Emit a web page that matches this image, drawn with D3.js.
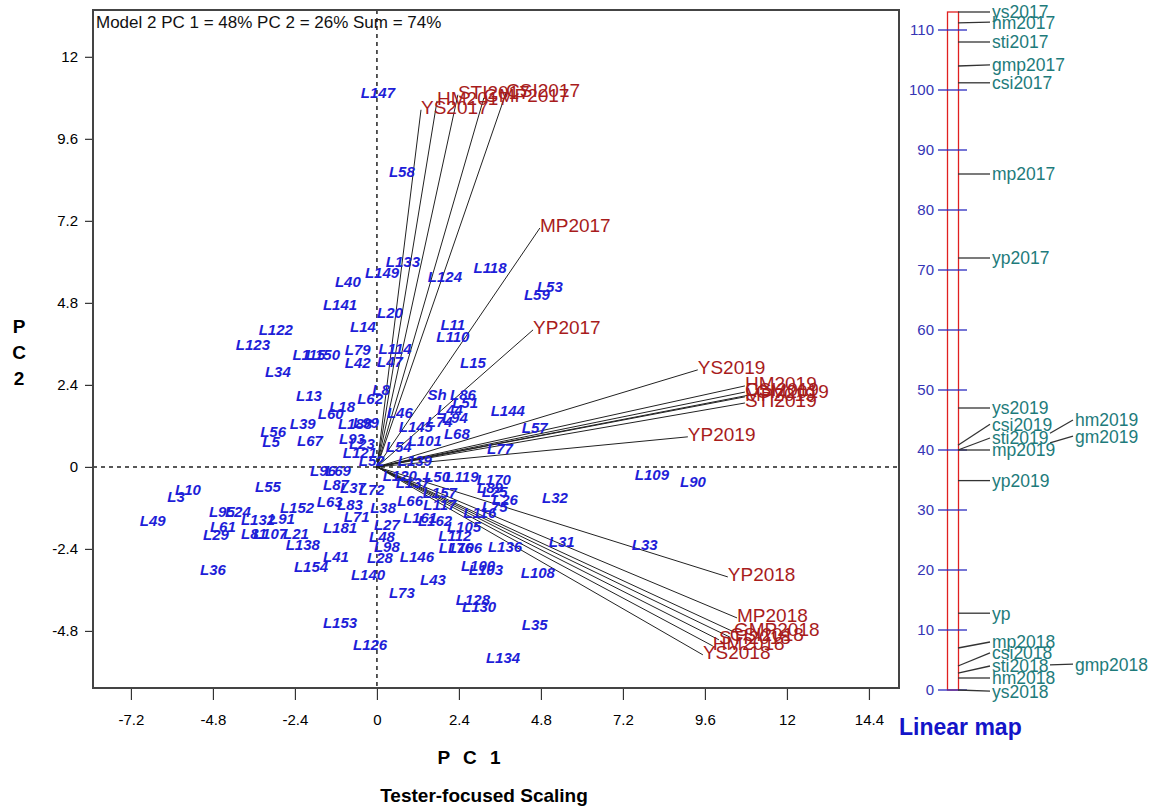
<!DOCTYPE html>
<html>
<head>
<meta charset="utf-8">
<script src="https://cdn.jsdelivr.net/npm/d3@7"></script>
<style>
  body { margin: 0; background: #fff; }
  text { font-family: Arial, "Liberation Sans", sans-serif; }
</style>
</head>
<body>
<svg id="chart" width="1160" height="806"></svg>
<script>
// genotype scores (PC1, PC2)
var genoNames = ['L147','L58','L133','L149','L40','L124','L118','L53','L59','L141','L20','L14','L122','L123','L11','L110','L115','L150','L79','L114','L42','L47','L15','L34','L13','L8','L62','L18','L60','Sh','L86','L51','L144','L46','L44','L94','L74','L145','L57','L68','L101','L54','L77','L56','L5','L39','L67','L188','L99','L93','L23','L121','L52','L139','L96','L69','L50','L119','L109','L90','L170','L89','L25','L26','L75','L116','L32','L31','L33','L136','L108','L100','L103','L106','L176','L112','L105','L161','L162','L157','L117','L146','L43','L73','L128','L130','L35','L134','L140','L28','L98','L48','L27','L38','L10','L3','L49','L55','L95','L24','L61','L29','L132','L91','L152','L81','L107','L21','L138','L154','L41','L36','L153','L126','L181','L87','L37','L72','L63','L83','L71','L120','L137','L66'];
var genoPC1 = [0.03,0.73,0.76,0.15,-0.85,1.99,3.31,5.06,4.68,-1.08,0.38,-0.41,-2.96,-3.63,2.22,2.22,-1.99,-1.58,-0.56,0.53,-0.56,0.38,2.81,-2.90,-1.99,0.12,-0.20,-1.02,-1.35,1.76,2.52,2.58,3.83,0.67,2.14,2.28,1.84,1.14,4.62,2.34,1.40,0.64,3.60,-3.04,-3.10,-2.17,-1.96,-0.64,-0.32,-0.73,-0.44,-0.50,-0.15,1.11,-1.58,-1.14,1.76,2.49,8.05,9.25,3.42,3.31,3.45,3.75,3.45,3.01,5.21,5.41,7.84,3.75,4.71,2.96,3.19,2.58,2.31,2.28,2.55,1.26,1.70,1.84,1.84,1.17,1.64,0.73,2.81,2.99,4.62,3.69,-0.26,0.09,0.29,0.15,0.29,0.18,-5.53,-5.88,-6.56,-3.19,-4.54,-4.07,-4.51,-4.71,-3.48,-2.78,-2.34,-3.60,-3.13,-2.37,-2.17,-1.93,-1.20,-4.80,-1.08,-0.20,-1.08,-1.20,-0.70,-0.15,-1.38,-0.79,-0.59,0.67,1.05,0.97];
var genoPC2 = [10.95,8.63,6.00,5.68,5.41,5.56,5.82,5.27,5.03,4.74,4.51,4.10,4.01,3.57,4.16,3.80,3.28,3.28,3.42,3.45,3.04,3.07,3.04,2.78,2.08,2.25,1.99,1.76,1.55,2.11,2.11,1.87,1.64,1.58,1.67,1.43,1.32,1.17,1.14,0.97,0.76,0.59,0.53,1.02,0.73,1.26,0.76,1.26,1.29,0.82,0.67,0.41,0.18,0.18,-0.12,-0.12,-0.29,-0.29,-0.23,-0.44,-0.38,-0.61,-0.73,-0.97,-1.17,-1.35,-0.91,-2.19,-2.28,-2.34,-3.10,-2.90,-3.01,-2.37,-2.37,-2.02,-1.76,-1.49,-1.58,-0.76,-1.11,-2.63,-3.31,-3.69,-3.89,-4.10,-4.62,-5.59,-3.16,-2.66,-2.34,-2.05,-1.70,-1.20,-0.67,-0.88,-1.58,-0.59,-1.32,-1.32,-1.76,-1.99,-1.55,-1.52,-1.20,-1.96,-1.96,-1.96,-2.28,-2.93,-2.63,-3.01,-4.57,-5.21,-1.79,-0.53,-0.61,-0.67,-1.02,-1.11,-1.46,-0.26,-0.47,-1.00];

// tester vectors
var testerNames = ['YS2017','HM2017','STI2017','GMP2017','CSI2017','MP2017','YP2017','YS2019','HM2019','CSI2019','GM2019','MP2019','STI2019','YP2019','YP2018','MP2018','GMP2018','CSI2018','STI2018','HM2018','YS2018'];
var testerPC1 = [1.29,1.76,2.37,3.13,3.78,4.77,4.57,9.39,10.77,10.77,11.09,10.77,10.77,9.10,10.27,10.54,10.45,10.33,10.01,9.83,9.54];
var testerPC2 = [10.45,10.71,10.89,10.80,10.95,6.99,4.01,2.84,2.37,2.19,2.14,2.05,1.87,0.88,-3.22,-4.42,-4.83,-4.98,-5.06,-5.24,-5.50];

var xTicks = [-7.2,-4.8,-2.4,0,2.4,4.8,7.2,9.6,12,14.4];
var yTicks = [-4.8,-2.4,0,2.4,4.8,7.2,9.6,12];

// linear map
var lmTicks = [0,10,20,30,40,50,60,70,80,90,100,110];
var lmNames = ['ys2017','hm2017','sti2017','gmp2017','csi2017','mp2017','yp2017','ys2019','csi2019','sti2019','mp2019','hm2019','gm2019','yp2019','yp','mp2018','csi2018','sti2018','gmp2018','hm2018','ys2018'];
var lmValues = [113,111.2,108,104,101.2,86,72,47,40.8,40,40,42.8,41.2,34.9,12.8,7,4,2.8,4.2,2,0];
var lmLabelAt = [113,111.3,108,104.2,101.2,86,72,47,44.3,42,40,45,42.3,34.9,12.8,8,6.2,4,4.3,2,-0.2];
var lmColumn = [0,0,0,0,0,0,0,0,0,0,0,1,1,0,0,0,0,0,1,0,0];

var svg = d3.select('#chart');
var plotL = 93, plotR = 899, plotT = 10, plotB = 688;

var x = d3.scaleLinear().domain([-8.31, 15.28]).range([plotL, plotR]);
var y = d3.scaleLinear().domain([-6.47, 13.37]).range([plotB, plotT]);

// axes
var xAxis = svg.append('g').attr('transform', 'translate(0,' + plotB + ')')
  .call(d3.axisBottom(x).tickValues(xTicks).tickSize(12).tickPadding(14).tickFormat(function(d) { return String(d); }));
var yAxis = svg.append('g').attr('transform', 'translate(' + plotL + ',0)')
  .call(d3.axisLeft(y).tickValues(yTicks).tickSize(8).tickPadding(7).tickFormat(function(d) { return String(d); }));
[xAxis, yAxis].forEach(function(a) {
  a.select('.domain').remove();
  a.selectAll('line').attr('stroke', '#333').attr('stroke-width', 1.2);
  a.selectAll('text').attr('font-size', 15).attr('fill', '#000')
    .style('font-family', '"Liberation Sans Narrow", "Arial Narrow", Arial, sans-serif');
});

// origin lines
svg.append('line').attr('x1', plotL).attr('x2', plotR).attr('y1', y(0)).attr('y2', y(0))
  .attr('stroke', '#222').attr('stroke-width', 1.5).attr('stroke-dasharray', '4,4');
svg.append('line').attr('x1', x(0)).attr('x2', x(0)).attr('y1', plotT).attr('y2', plotB)
  .attr('stroke', '#222').attr('stroke-width', 1.5).attr('stroke-dasharray', '4,4');

// tester vectors
var testers = testerNames.map(function(n, i) { return { name: n, pc1: testerPC1[i], pc2: testerPC2[i] }; });
svg.append('g').selectAll('line').data(testers).enter().append('line')
  .attr('x1', x(0)).attr('y1', y(0))
  .attr('x2', function(d) { return x(d.pc1); }).attr('y2', function(d) { return y(d.pc2); })
  .attr('stroke', '#222').attr('stroke-width', 1);

// genotypes
var genos = genoNames.map(function(n, i) { return { name: n, pc1: genoPC1[i], pc2: genoPC2[i] }; });
svg.append('g').selectAll('text').data(genos).enter().append('text')
  .attr('x', function(d) { return x(d.pc1); }).attr('y', function(d) { return y(d.pc2); })
  .attr('dy', '0.36em').attr('text-anchor', 'middle')
  .attr('font-size', 15).attr('font-weight', 'bold').attr('font-style', 'italic')
  .attr('fill', '#1e1ed8').text(function(d) { return d.name; });

svg.append('g').selectAll('text').data(testers).enter().append('text')
  .attr('x', function(d) { return x(d.pc1); }).attr('y', function(d) { return y(d.pc2) + 4; })
  .attr('font-size', 19).attr('fill', '#a81c1c').text(function(d) { return d.name; });

// frame
svg.append('rect').attr('x', plotL).attr('y', plotT).attr('width', plotR - plotL).attr('height', plotB - plotT)
  .attr('fill', 'none').attr('stroke', '#444').attr('stroke-width', 2);

svg.append('text').attr('x', plotL + 3).attr('y', 28).attr('font-size', 17).attr('fill', '#111')
  .text('Model 2 PC 1 = 48% PC 2 = 26% Sum = 74%');

// axis titles
svg.append('text').attr('x', 471).attr('y', 764).attr('text-anchor', 'middle')
  .attr('font-size', 19).attr('font-weight', 'bold').attr('letter-spacing', '4px').text('P C 1');
svg.append('text').attr('x', 484).attr('y', 802).attr('text-anchor', 'middle')
  .attr('font-size', 19).attr('font-weight', 'bold').text('Tester-focused Scaling');
['P', 'C', '2'].forEach(function(c, i) {
  svg.append('text').attr('x', 19).attr('y', 333 + i * 26).attr('text-anchor', 'middle')
    .attr('font-size', 19).attr('font-weight', 'bold').text(c);
});

// linear map
var lm = d3.scaleLinear().domain([0, 110]).range([690, 30]);
var lmG = svg.append('g');
lmG.append('rect').attr('x', 947.5).attr('y', lm(113)).attr('width', 11).attr('height', lm(0) - lm(113))
  .attr('fill', 'none').attr('stroke', '#e02020').attr('stroke-width', 1.3);
lmG.selectAll('line.tk').data(lmTicks).enter().append('line').attr('class', 'tk')
  .attr('x1', 938).attr('x2', 967).attr('y1', function(d) { return lm(d); }).attr('y2', function(d) { return lm(d); })
  .attr('stroke', '#2a2ac0').attr('stroke-width', 1.3);
lmG.selectAll('text.tk').data(lmTicks).enter().append('text').attr('class', 'tk')
  .attr('x', 934).attr('y', function(d) { return lm(d); }).attr('dy', '0.36em').attr('text-anchor', 'end')
  .attr('font-size', 15).attr('fill', '#3535b5').text(function(d) { return d; });

var lmItems = lmNames.map(function(n, i) {
  return { name: n, v: lmValues[i], at: lmLabelAt[i], col: lmColumn[i] };
});
lmG.selectAll('line.ld').data(lmItems).enter().append('line').attr('class', 'ld')
  .attr('x1', function(d) { return d.col ? 1050 : 958; })
  .attr('x2', function(d) { return d.col ? 1073 : 990; })
  .attr('y1', function(d) { return lm(d.v); }).attr('y2', function(d) { return lm(d.at); })
  .attr('stroke', '#333').attr('stroke-width', 1.3);
lmG.selectAll('text.ld').data(lmItems).enter().append('text').attr('class', 'ld')
  .attr('x', function(d) { return d.col ? 1075 : 992; }).attr('y', function(d) { return lm(d.at); })
  .attr('dy', '0.36em').attr('font-size', 17.5).attr('fill', '#1e7b7b').text(function(d) { return d.name; });

svg.append('text').attr('x', 899).attr('y', 735).attr('font-size', 23).attr('font-weight', 'bold')
  .attr('fill', '#1414c8').text('Linear map');
</script>
</body>
</html>
